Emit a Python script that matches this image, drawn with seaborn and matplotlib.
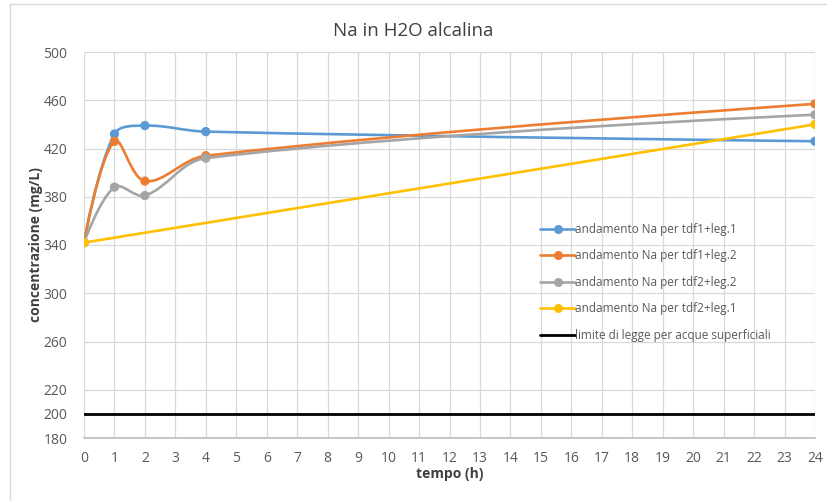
import numpy as np
import matplotlib
matplotlib.use("Agg")
import matplotlib.pyplot as plt
import seaborn as sns
from matplotlib.path import Path
from matplotlib.patches import PathPatch
from matplotlib.lines import Line2D

# ---- data ----
hours = [0, 1, 2, 4, 24]
na_tdf1_leg1 = [342, 432, 439, 434, 426]
na_tdf1_leg2 = [342, 426, 393, 414, 457]
na_tdf2_leg2 = [342, 388, 381, 412, 448]
hours_tdf2_leg1 = [0, 24]
na_tdf2_leg1 = [342, 440]
limit_hours = [0, 24]
limit_values = [200, 200]

labels = ["andamento Na per tdf1+leg.1", "andamento Na per tdf1+leg.2",
          "andamento Na per tdf2+leg.2", "andamento Na per tdf2+leg.1",
          "limite di legge per acque superficiali"]
colors = ["#5B9BD5", "#ED7D31", "#A5A5A5", "#FFC000", "#000000"]
y_ticks = [180, 200, 220, 260, 300, 340, 380, 420, 460, 500]
x_ticks = list(range(0, 25))

sns.set_theme(style="white")
plt.rcParams['font.family'] = ['Open Sans', 'DejaVu Sans']

fig = plt.figure(figsize=(8.27, 5.01), dpi=100)
ax = fig.add_axes([84/827, 1-438/501, (815-84)/827, (438-52)/501])
ax.set_xlim(0, 24)
ax.set_ylim(180, 500)

# screen scale (px per data unit) used only for smoothing distances
SX, SY = 731/24.0, 386/320.0
TENSION = 0.36

def smooth_path(xs, ys):
    pts = np.column_stack([xs, ys]).astype(float)
    n = len(pts)
    scale = np.array([SX, SY])
    if n < 3:
        return Path(pts, [Path.MOVETO] + [Path.LINETO] * (n - 1))
    before = [None] * n
    after = [None] * n
    before[0] = pts[0]
    after[0] = pts[0]
    before[-1] = pts[-1]
    after[-1] = pts[-1]
    for i in range(1, n - 1):
        p0, p1, p2 = pts[i - 1], pts[i], pts[i + 1]
        d01 = np.linalg.norm((p1 - p0) * scale)
        d12 = np.linalg.norm((p2 - p1) * scale)
        fa = TENSION * d01 / (d01 + d12)
        fb = TENSION * d12 / (d01 + d12)
        before[i] = p1 - fa * (p2 - p0)
        after[i] = p1 + fb * (p2 - p0)
    verts = [pts[0]]
    codes = [Path.MOVETO]
    for i in range(n - 1):
        verts += [after[i], before[i + 1], pts[i + 1]]
        codes += [Path.CURVE4] * 3
    return Path(verts, codes)

series = [(hours, na_tdf1_leg1), (hours, na_tdf1_leg2), (hours, na_tdf2_leg2),
          (hours_tdf2_leg1, na_tdf2_leg1)]
for (xs, ys), c in zip(series, colors[:4]):
    patch = PathPatch(smooth_path(xs, ys), facecolor='none', edgecolor=c,
                      lw=1.9, zorder=3, capstyle='round')
    ax.add_patch(patch)
    sns.scatterplot(x=xs, y=ys, color=c, s=45, edgecolor='none', zorder=4,
                    ax=ax, legend=False)

sns.lineplot(x=limit_hours, y=limit_values, color="black", lw=2.0, ax=ax,
             zorder=3, legend=False)

ax.set_xlim(0, 24)
ax.set_ylim(180, 500)
ax.set_xticks(x_ticks)
ax.set_yticks(y_ticks)
ax.grid(True, color="#D9D9D9", lw=0.9)
ax.set_axisbelow(True)
for s in ["top", "right", "left"]:
    ax.spines[s].set_visible(False)
ax.spines["bottom"].set_color("#BFBFBF")
ax.tick_params(axis='both', labelsize=10, colors="#595959", length=5,
               color="#BFBFBF", width=0.9)
ax.tick_params(axis='y', length=0, pad=12)
ax.tick_params(axis='x', direction='out', pad=4)

ax.set_xlabel("tempo (h)", fontsize=10, fontweight='bold', color="#404040",
              labelpad=1)
ax.set_ylabel("concentrazione (mg/L)", fontsize=10, fontweight='bold',
              color="#404040", labelpad=0)
fig.text(0.5, 1 - 31/501, "Na in H2O alcalina", ha='center', va='center',
         fontsize=13.5, color="#404040")

handles = [Line2D([0], [0], color=c, lw=1.9, marker='o', markersize=6.5,
                  markeredgewidth=0) for c in colors[:4]]
handles.append(Line2D([0], [0], color='black', lw=2.0))
leg = ax.legend(handles, labels, loc='upper left',
                bbox_to_anchor=(0.618, 0.57), frameon=False, fontsize=8.5,
                labelspacing=1.15, handlelength=2.9, handletextpad=0.05,
                borderaxespad=0)
for t in leg.get_texts():
    t.set_color("#595959")

# chart border (left and top edges visible)
fig.add_artist(Line2D([10/827, 10/827], [0, 1 - 4/501], color="#D9D9D9",
                      lw=1.0, transform=fig.transFigure))
fig.add_artist(Line2D([10/827, 1], [1 - 4/501, 1 - 4/501], color="#D9D9D9",
                      lw=1.0, transform=fig.transFigure))

fig.savefig("out.png", dpi=100)
